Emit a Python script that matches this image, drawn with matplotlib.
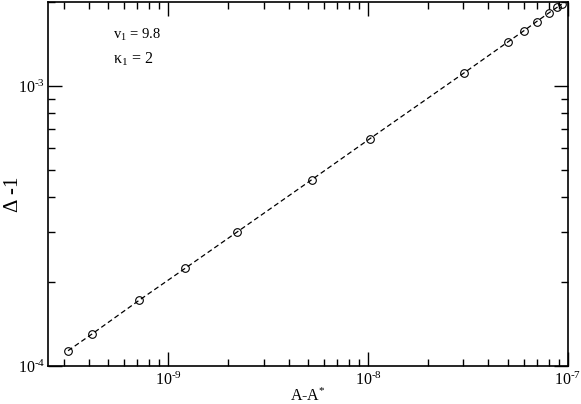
import numpy as np
import matplotlib
matplotlib.use("Agg")
import matplotlib.pyplot as plt
from matplotlib.ticker import LogLocator, NullFormatter, FuncFormatter

plt.rcParams['font.family'] = ['Liberation Serif', 'DejaVu Serif']
plt.rcParams['mathtext.fontset'] = 'custom'
plt.rcParams['mathtext.rm'] = 'Liberation Serif'
plt.rcParams['mathtext.it'] = 'Liberation Serif:italic'

# valori
dA = [3.15e-10, 4.17e-10, 7.14e-10, 1.216e-9, 2.21e-9, 5.23e-9, 1.02e-8,
      3.03e-8, 5.0e-8, 6.03e-8, 6.97e-8, 8.0e-8, 8.84e-8, 9.3e-8]
delta_m1 = [1.134e-4, 1.304e-4, 1.716e-4, 2.234e-4, 3.01e-4, 4.63e-4, 6.48e-4,
            1.115e-3, 1.435e-3, 1.576e-3, 1.698e-3, 1.82e-3, 1.91e-3, 1.96e-3]


def etichetta(v, pos):
    esp = int(round(np.log10(v)))
    return r'$10^{\text{%d}}$' % esp


fig = plt.figure(figsize=(5.81, 4.04), dpi=100)
ax = fig.add_axes([0.0826, 0.094, 0.895, 0.902])

ax.plot(dA, delta_m1, linestyle=(0, (4, 2.5)), color='black', linewidth=0.9,
        marker='o', markersize=5.5, markerfacecolor='none', markeredgecolor='black',
        markeredgewidth=0.8)

ax.set_xscale('log')
ax.set_yscale('log')
ax.set_xlim(2.5e-10, 1e-7)
ax.set_ylim(1e-4, 2e-3)

ax.xaxis.set_minor_locator(LogLocator(base=10, subs=np.arange(2, 10)))
ax.yaxis.set_minor_locator(LogLocator(base=10, subs=np.arange(2, 10)))
ax.xaxis.set_minor_formatter(NullFormatter())
ax.yaxis.set_minor_formatter(NullFormatter())
ax.xaxis.set_major_formatter(FuncFormatter(etichetta))
ax.yaxis.set_major_formatter(FuncFormatter(etichetta))

ax.tick_params(which='both', direction='in', top=True, right=True, width=1.0)
ax.tick_params(which='major', length=10, labelsize=11.5)
ax.tick_params(axis='y', which='major', pad=2)
ax.tick_params(axis='x', which='major', pad=4)
ax.tick_params(which='minor', length=5)
for s in ax.spines.values():
    s.set_linewidth(1.2)

ax.set_xlabel('A-A$^{*}$', fontsize=11.5, va='top')
ax.xaxis.set_label_coords(0.5, -0.06)
ax.set_ylabel('$\\Delta$ -1', fontsize=15, va='center')
ax.yaxis.set_label_coords(-0.066, 0.47)

ax.text(0.125, 0.898, r'$\mathrm{v}_{1}$ = 9.8', transform=ax.transAxes, fontsize=10.5)
ax.text(0.125, 0.83, 'κ$_{1}$ = 2', transform=ax.transAxes, fontsize=11.5)

fig.savefig('out.png', dpi=100)
